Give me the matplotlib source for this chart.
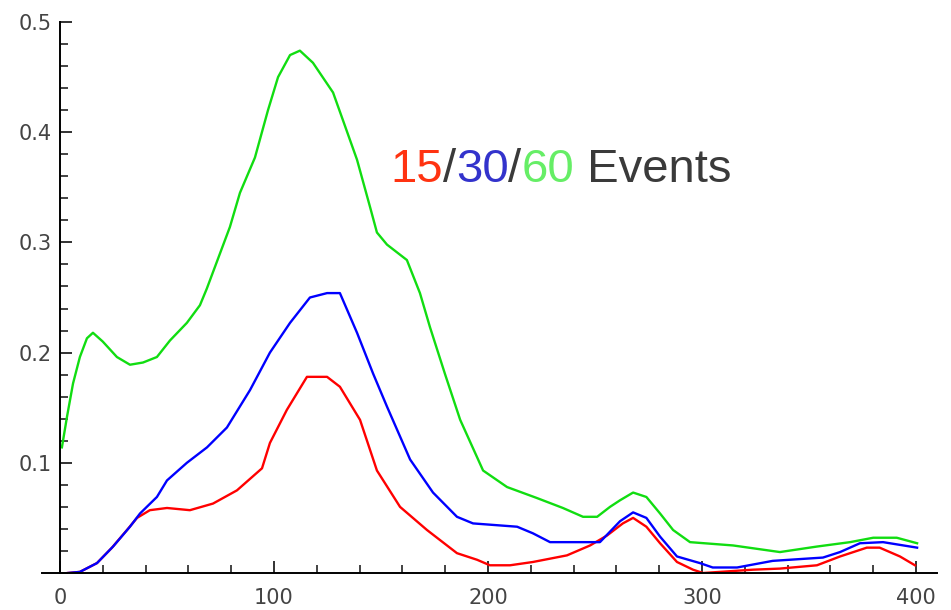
import matplotlib.pyplot as plt
from matplotlib.ticker import MultipleLocator

# values
green_x = [0.9, 3.3, 6.1, 9.3, 12.6, 15.4, 20, 26.6, 32.7, 38.8, 45.3, 51.4, 59.3, 65.4,
           68.6, 79.4, 84.1, 91.1, 97.2, 101.9, 107.5, 112.1, 118.2, 127.6, 132.2, 138.8,
           144.9, 148.1, 152.8, 162.1, 168.2, 172.9, 180, 187, 197.7, 208.9, 222.9, 235,
           244.4, 251, 257, 261.7, 267.8, 274, 280.4, 286.5, 294.4, 314.5, 336.4, 353.7,
           369.2, 380, 391, 400.5]
green_y = [0.114, 0.142, 0.172, 0.196, 0.213, 0.218, 0.210, 0.196, 0.189, 0.191, 0.196,
           0.211, 0.227, 0.243, 0.258, 0.314, 0.345, 0.377, 0.420, 0.450, 0.470, 0.474,
           0.463, 0.436, 0.411, 0.375, 0.332, 0.309, 0.298, 0.284, 0.254, 0.223, 0.180,
           0.139, 0.093, 0.078, 0.068, 0.059, 0.051, 0.051, 0.060, 0.066, 0.073, 0.069,
           0.054, 0.039, 0.028, 0.025, 0.019, 0.024, 0.028, 0.032, 0.032, 0.027]

blue_x = [3.7, 9.3, 17.3, 24.8, 32.7, 37.4, 45.3, 50, 59.3, 68.7, 78, 88.8, 98.1, 107.5,
          116.8, 124.8, 130.8, 138.8, 146.3, 152.8, 163.6, 174.3, 185.5, 193, 213.6, 221,
          229, 252.3, 261.7, 267.8, 274, 280.4, 288.3, 299, 305, 316.4, 333, 356.5, 364.5,
          373.8, 384.6, 400.5]
blue_y = [0.000, 0.001, 0.009, 0.024, 0.042, 0.054, 0.069, 0.084, 0.100, 0.114, 0.132,
          0.166, 0.200, 0.227, 0.250, 0.254, 0.254, 0.218, 0.181, 0.151, 0.103, 0.073,
          0.051, 0.045, 0.042, 0.036, 0.028, 0.028, 0.047, 0.055, 0.050, 0.033, 0.015,
          0.009, 0.005, 0.005, 0.011, 0.014, 0.019, 0.027, 0.028, 0.023]

red_x = [3.7, 9.3, 17.3, 24.3, 31.3, 36, 42, 50, 60.7, 71.5, 82.7, 94.4, 98.1, 106, 115.4,
         124.8, 130.8, 140.2, 148.1, 158.9, 171.5, 185.5, 194.9, 200.9, 210.3, 221, 236.9,
         247.7, 255.6, 263, 267.8, 274, 280.4, 288.3, 295.8, 300.5, 323.8, 336.4, 353.7,
         364.5, 377, 383, 392.5, 399.5]
red_y = [0.000, 0.001, 0.009, 0.023, 0.039, 0.050, 0.057, 0.059, 0.057, 0.063, 0.075,
         0.095, 0.118, 0.148, 0.178, 0.178, 0.169, 0.139, 0.093, 0.060, 0.039, 0.018,
         0.012, 0.007, 0.007, 0.010, 0.016, 0.025, 0.034, 0.045, 0.050, 0.042, 0.027,
         0.010, 0.003, 0.000, 0.003, 0.004, 0.007, 0.015, 0.023, 0.023, 0.015, 0.007]

title_parts = ["15", "/", "30", "/", "60", " Events"]
title_colors = ["#ff3311", "#3a3a3a", "#3333cc", "#3a3a3a", "#66ee66", "#3a3a3a"]

fig = plt.figure(figsize=(9.51, 6.10), dpi=100)
ax = fig.add_axes([42 / 951, 37 / 610, 895 / 951, 551 / 610])

ax.plot(red_x, red_y, color="#ff0000", lw=1.7)
ax.plot(blue_x, blue_y, color="#0000ff", lw=1.7)
ax.plot(green_x, green_y, color="#11dd11", lw=1.7)

ax.set_xlim(-8.4, 409.8)
ax.set_ylim(0, 0.5)

# axes crossing at the origin, Mathematica style
for s in ["top", "right"]:
    ax.spines[s].set_visible(False)
ax.spines["left"].set_position(("data", 0))
ax.spines["left"].set_linewidth(1.4)
ax.spines["bottom"].set_linewidth(1.4)

ax.xaxis.set_minor_locator(MultipleLocator(20))
ax.yaxis.set_minor_locator(MultipleLocator(0.02))
ax.set_xticks([0, 100, 200, 300, 400])
ax.set_xticklabels(["0", "100", "200", "300", "400"])
ax.set_yticks([0.1, 0.2, 0.3, 0.4, 0.5])
ax.set_yticklabels(["0.1", "0.2", "0.3", "0.4", "0.5"])

ax.tick_params(which="major", direction="in", length=8.5, width=1.3, colors="#222222",
               labelsize=15, labelcolor="#444444")
ax.tick_params(which="minor", direction="in", length=5.5, width=1.2, colors="#222222")
ax.tick_params(axis="x", which="major", pad=11)
ax.tick_params(axis="y", which="major", pad=6)

# multi-coloured label, pieces chained one after another
prev = fig.text(390 / 951, (610 - 182) / 610, title_parts[0], color=title_colors[0],
                fontsize=34, family="Liberation Sans", va="baseline", ha="left")
for part, col in zip(title_parts[1:], title_colors[1:]):
    prev = ax.annotate(part, xy=(1, 0), xycoords=prev, va="bottom", ha="left",
                       color=col, fontsize=34, family="Liberation Sans")

fig.savefig("out.png", dpi=100)
